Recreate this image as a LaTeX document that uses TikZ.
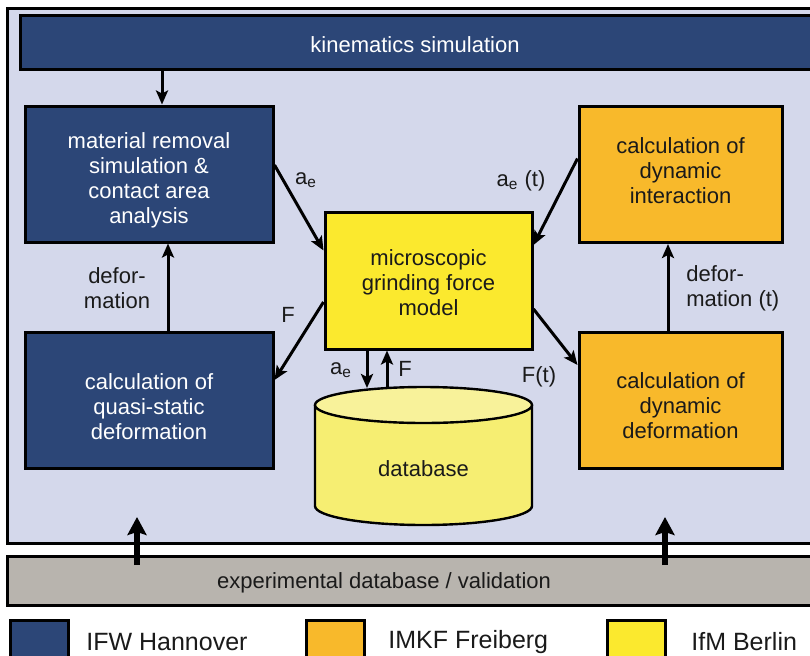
\documentclass[tikz,border=0pt]{standalone}
\usepackage{fontspec}
\setmainfont{Liberation Sans}
\usetikzlibrary{arrows.meta,calc}

\definecolor{ifwblue}{HTML}{2C4677}
\definecolor{imkforange}{HTML}{F8B92B}
\definecolor{ifmyellow}{HTML}{FBE92E}
\definecolor{dbbody}{HTML}{F6EE72}
\definecolor{dbtop}{HTML}{F8F29A}
\definecolor{panel}{HTML}{D4D8EB}
\definecolor{expgray}{HTML}{B8B4AE}
\definecolor{ink}{HTML}{1A1A1A}

\tikzset{
  txt/.style={font=\fontsize{11}{12.5}\selectfont, text=ink, inner sep=0pt, align=center},
  wtxt/.style={txt, text=white},
  box/.style={draw=black, line width=1.5pt, inner sep=0pt},
  ifwbox/.style={box, fill=ifwblue},
  imkfbox/.style={box, fill=imkforange},
  ifmbox/.style={box, fill=ifmyellow},
  arr/.style={line width=1.5pt, -{Stealth[length=7pt,width=6pt,inset=1.5pt]}},
  bigarr/.style={line width=3.4pt, -{Stealth[length=9pt,width=9.5pt,inset=1.5pt]}},
  legtxt/.style={font=\fontsize{12.5}{14}\selectfont, text=ink, inner sep=0pt, anchor=west},
}

\begin{document}
\begin{tikzpicture}[x=0.5pt,y=-0.5pt]
\useasboundingbox (0,0) rectangle (810,655);

% project frame and validation bar
\node[box, fill=panel, minimum width=406.5pt, minimum height=267.5pt] (frame) at (413.5,275.5) {};
\node[box, fill=expgray, minimum width=404pt, minimum height=24.5pt] (exp) at (411,581) {};
\node[txt] (explabel) at (384,583) {experimental database / validation};

% kinematics bar
\node[ifwbox, minimum width=397.5pt, minimum height=27pt] (kin) at (417.5,42) {};
\node[wtxt] (kinT) at (415,45) {kinematics simulation};

% IFW boxes
\node[ifwbox, minimum width=124pt, minimum height=68pt] (mat) at (149,174) {};
\node[wtxt] (matT) at (149,180) {material removal\\simulation \&\\contact area\\analysis};
\node[ifwbox, minimum width=124pt, minimum height=68pt] (quasi) at (149,400) {};
\node[wtxt] (quasiT) at (149,406.5) {calculation of\\quasi-static\\deformation};

% IMKF boxes
\node[imkfbox, minimum width=101.5pt, minimum height=68pt] (inter) at (680.5,174.5) {};
\node[txt] (interT) at (680.5,170.5) {calculation of\\dynamic\\interaction};
\node[imkfbox, minimum width=101.5pt, minimum height=68pt] (ddef) at (680.5,400) {};
\node[txt] (ddefT) at (680.5,406) {calculation of\\dynamic\\deformation};

% IfM force model
\node[ifmbox, minimum width=103.5pt, minimum height=68.5pt] (micro) at (428.5,280.5) {};
\node[txt] (microT) at (428.5,282.5) {microscopic\\grinding force\\model};

% database cylinder
\fill[dbbody] (315,405) -- (315,506)
  arc[start angle=180, end angle=360, x radius=54.25pt, y radius=9.5pt]
  -- (532,405) -- cycle;
\draw[line width=1.2pt] (315,405) -- (315,506)
  arc[start angle=180, end angle=360, x radius=54.25pt, y radius=9.5pt]
  -- (532,405);
\draw[line width=1.2pt, fill=dbtop] (423.5,405) ellipse[x radius=54.25pt, y radius=9pt];
\node[txt] (db) at (423.5,469) {database};
\coordinate (dbin) at (367,388);
\coordinate (dbout) at (387,388);

% connectors
\draw[arr] ([xshift=6.5pt]mat.north |- kin.south) -- ([xshift=6.5pt]mat.north);
\draw[arr] ([yshift=4.5pt]mat.east) -- ([yshift=15pt]micro.west);
\draw[arr] ([yshift=8pt]inter.west) -- ([yshift=17.75pt]micro.east);
\draw[arr] ([yshift=-10.75pt]micro.west) -- ([yshift=10pt]quasi.east);
\draw[arr] ([yshift=-14.25pt]micro.east) -- ([yshift=17.5pt]ddef.west);
\draw[arr] ([xshift=9.5pt]quasi.north) -- ([xshift=9.5pt]mat.south);
\draw[arr] ([xshift=-6.25pt]ddef.north) -- ([xshift=-6.25pt]inter.south);
\draw[arr] (dbin |- micro.south) -- (dbin);
\draw[arr] (dbout) -- (dbout |- micro.south);

% validation inputs
\coordinate (vl) at (137,517);
\coordinate (vr) at (665,517);
\coordinate (vbase) at (0,565);
\draw[bigarr] (vl |- vbase) -- (vl);
\draw[bigarr] (vr |- vbase) -- (vr);

% connector labels
\node[txt] (l1) at (306,180) {a\textsubscript{e}};
\node[txt] (l2) at (521,181) {a\textsubscript{e} (t)};
\node[txt] (l3) at (288,315) {F};
\node[txt] (l4) at (539,377) {F(t)};
\node[txt] (l5) at (341,370) {a\textsubscript{e}};
\node[txt] (l6) at (405,369) {F};
\node[txt] (l7) at (117,288) {defor-\\mation};
\node[txt, align=left, anchor=west] (l8) at (686,288) {defor-\\mation (t)};

% legend
\node[box, fill=ifwblue, minimum width=29pt, minimum height=22pt] (k1) at (39,642) {};
\node[legtxt] (t1) at (86,642) {IFW Hannover};
\node[box, fill=imkforange, minimum width=29pt, minimum height=22pt] (k2) at (335,642) {};
\node[legtxt] (t2) at (388,642) {IMKF Freiberg};
\node[box, fill=ifmyellow, minimum width=29pt, minimum height=22pt] (k3) at (636,642) {};
\node[legtxt] (t3) at (691,642) {IfM Berlin};
\end{tikzpicture}
\end{document}
